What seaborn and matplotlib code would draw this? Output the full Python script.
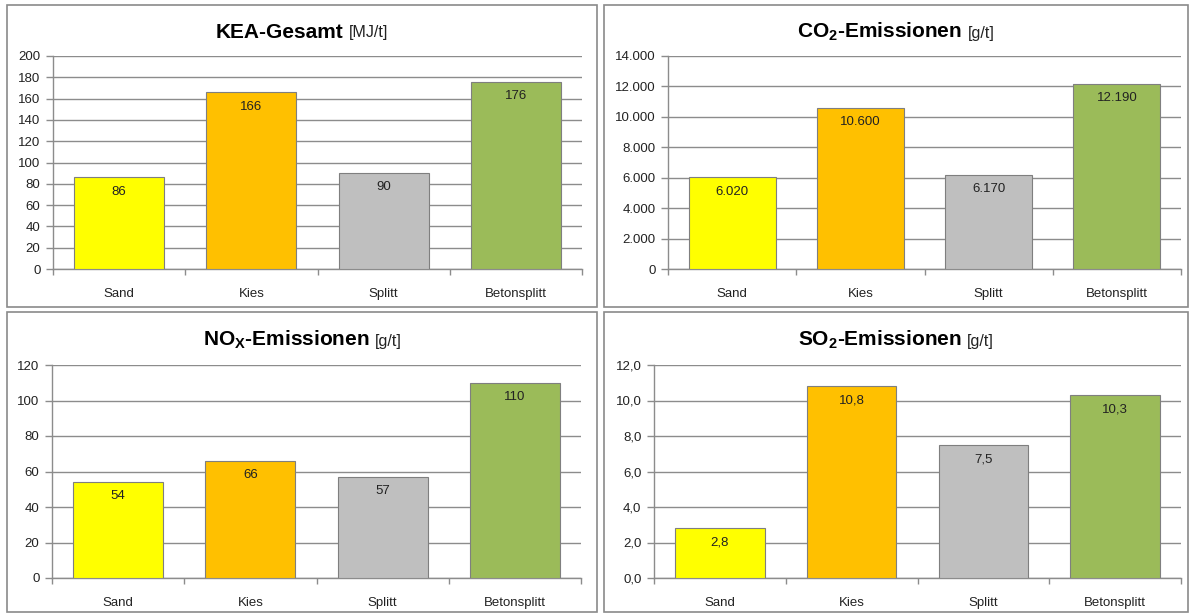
import matplotlib
matplotlib.use("Agg")
import matplotlib.pyplot as plt
import seaborn as sns
import pandas as pd
from matplotlib.patches import Rectangle
from matplotlib.offsetbox import TextArea, HPacker, AnnotationBbox
from matplotlib.ticker import FuncFormatter

categories = ["Sand", "Kies", "Splitt", "Betonsplitt"]
kea_values = [86, 166, 90, 176]
co2_values = [6020, 10600, 6170, 12190]
nox_values = [54, 66, 57, 110]
so2_values = [2.8, 10.8, 7.5, 10.3]
bar_colors = ["#FFFF00", "#FFC000", "#BFBFBF", "#9BBB59"]

sns.set_theme(style="white")
plt.rcParams["font.family"] = ["Liberation Sans", "DejaVu Sans"]
plt.rcParams["mathtext.fontset"] = "custom"
plt.rcParams["mathtext.rm"] = "Liberation Sans"
plt.rcParams["mathtext.bf"] = "Liberation Sans:bold"
plt.rcParams["mathtext.it"] = "Liberation Sans:italic"

W, H = 1190, 613
fig = plt.figure(figsize=(W / 100, H / 100), dpi=100)
fig.patch.set_facecolor("white")


def de_fmt(v, decimals):
    s = f"{v:,.{decimals}f}"
    return s.replace(",", "X").replace(".", ",").replace("X", ".")


panels = [
    dict(values=kea_values, title_main=r"KEA-Gesamt", unit="[MJ/t]", ymax=200, step=20, dec=0,
         box=(7, 5, 597, 307), ax=(53, 56, 582, 269), title_y=32, labels_dec=0),
    dict(values=co2_values, title_main=r"CO$_\mathbf{2}$-Emissionen", unit="[g/t]", ymax=14000, step=2000, dec=0,
         box=(604, 5, 1188, 307), ax=(668, 56, 1181, 269), title_y=32, labels_dec=0),
    dict(values=nox_values, title_main=r"NO$_\mathbf{X}$-Emissionen", unit="[g/t]", ymax=120, step=20, dec=0,
         box=(7, 312, 597, 612), ax=(52, 365, 581, 578), title_y=340, labels_dec=0),
    dict(values=so2_values, title_main=r"SO$_\mathbf{2}$-Emissionen", unit="[g/t]", ymax=12, step=2, dec=1,
         box=(604, 312, 1188, 612), ax=(654, 365, 1181, 578), title_y=340, labels_dec=1),
]

grid_col = "#8C8C8C"

for p in panels:
    x0, y0, x1, y1 = p["box"]
    fig.patches.append(Rectangle((x0 / W, 1 - y1 / H), (x1 - x0) / W, (y1 - y0) / H,
                                 transform=fig.transFigure, fill=False,
                                 edgecolor="#8A8A8A", linewidth=1.2, zorder=0))
    ax0, ay0, ax1, ay1 = p["ax"]
    ax = fig.add_axes([ax0 / W, 1 - ay1 / H, (ax1 - ax0) / W, (ay1 - ay0) / H])
    df = pd.DataFrame({"cat": categories, "val": p["values"]})
    sns.barplot(data=df, x="cat", y="val", hue="cat", palette=bar_colors, legend=False,
                width=0.68, ax=ax, edgecolor="#7F7F7F", linewidth=0.8, saturation=1, zorder=3)
    ax.set_ylim(0, p["ymax"])
    ax.set_xlim(-0.5, 3.5)
    ticks = [i * p["step"] for i in range(int(round(p["ymax"] / p["step"])) + 1)]
    ax.set_yticks(ticks)
    dec = p["dec"]
    ax.yaxis.set_major_formatter(FuncFormatter(lambda v, pos, d=dec: de_fmt(v, d)))
    ax.grid(axis="y", color=grid_col, linewidth=1.0, zorder=0)
    ax.set_axisbelow(True)
    for s in ["top", "right"]:
        ax.spines[s].set_visible(False)
    for s in ["left", "bottom"]:
        ax.spines[s].set_color(grid_col)
        ax.spines[s].set_linewidth(1.0)
    ax.set_xlabel("")
    ax.set_ylabel("")
    ax.tick_params(axis="y", left=True, length=5, width=1, color=grid_col, labelsize=9.5,
                   labelcolor="#222222", pad=4)
    # category labels, with tick marks between categories
    ax.set_xticks([0, 1, 2, 3])
    ax.set_xticklabels(categories)
    ax.tick_params(axis="x", bottom=False, labelsize=9.5, labelcolor="#222222", pad=8)
    ax.set_xticks([-0.5, 0.5, 1.5, 2.5, 3.5], minor=True)
    ax.tick_params(axis="x", which="minor", bottom=True, length=4, width=1, color=grid_col)
    # value labels inside bars near top
    for i, v in enumerate(p["values"]):
        ax.annotate(de_fmt(v, p["labels_dec"]), xy=(i, v), xytext=(0, -6),
                    textcoords="offset points", ha="center", va="top",
                    fontsize=9.5, color="#222222", zorder=5)
    # title
    ta1 = TextArea(p["title_main"], textprops=dict(fontsize=15, fontweight="bold", color="black"))
    ta2 = TextArea(p["unit"], textprops=dict(fontsize=11.5, color="#222222"))
    pack = HPacker(children=[ta1, ta2], align="baseline", pad=0, sep=4)
    cx = (x0 + x1) / 2 / W
    ab = AnnotationBbox(pack, (cx, 1 - p["title_y"] / H), xycoords="figure fraction",
                        frameon=False, box_alignment=(0.5, 0.5))
    fig.add_artist(ab)

fig.savefig("out.png", dpi=100, facecolor="white")
